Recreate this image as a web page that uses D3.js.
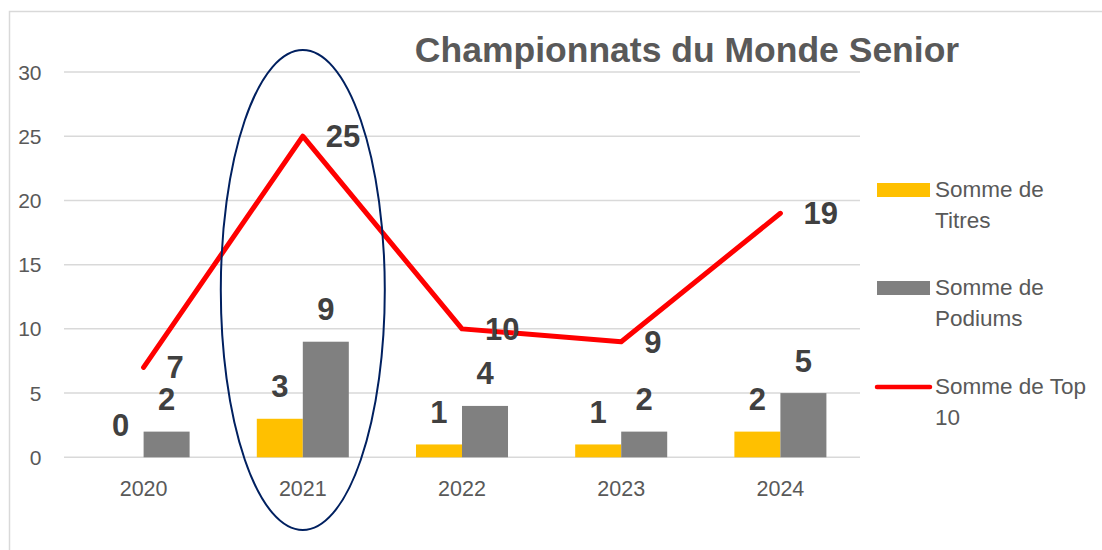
<!DOCTYPE html>
<html>
<head>
<meta charset="utf-8">
<script src="https://cdn.jsdelivr.net/npm/d3@7"></script>
<style>
  html, body { margin: 0; padding: 0; background: #fff; }
  svg { display: block; font-family: "Liberation Sans", Arial, sans-serif; }
</style>
</head>
<body>
<svg id="chart" width="1102" height="550"></svg>
<script>
// ---- data ----
const years = ["2020", "2021", "2022", "2023", "2024"];
const titres = [0, 3, 1, 1, 2];
const podiums = [2, 9, 4, 2, 5];
const top10 = [7, 25, 10, 9, 19];
const yTicks = [0, 5, 10, 15, 20, 25, 30];
const seriesNames = ["Titres", "Podiums", "Top 10"];
const legendLabels = [["Somme de", "Titres"], ["Somme de", "Podiums"], ["Somme de Top", "10"]];
const highlightYear = "2021";
const title = "Championnats du Monde Senior";

// ---- layout ----
const svg = d3.select("#chart");
const plot = { left: 64, right: 860, top: 72, bottom: 457.3 };
const colors = { Titres: "#FFC000", Podiums: "#808080", "Top 10": "#FF0000" };

// outer chart border (partially cropped)
svg.append("rect")
  .attr("x", 9.5).attr("y", 11.5)
  .attr("width", 1300).attr("height", 700)
  .attr("fill", "none").attr("stroke", "#d9d9d9").attr("stroke-width", 1.5);

const x = d3.scaleBand().domain(years).range([plot.left, plot.right]).padding(0);
const xSub = d3.scaleBand().domain(["Titres", "Podiums"]).range([0, x.bandwidth()])
  .paddingInner(0).paddingOuter(0.73);
const y = d3.scaleLinear().domain([0, 30]).range([plot.bottom, plot.top]);

// gridlines
svg.append("g").selectAll("line").data(yTicks).join("line")
  .attr("x1", plot.left).attr("x2", plot.right)
  .attr("y1", d => y(d)).attr("y2", d => y(d))
  .attr("stroke", "#d9d9d9").attr("stroke-width", 1.5);

// y axis labels
svg.append("g").selectAll("text").data(yTicks).join("text")
  .attr("x", 41.5).attr("y", d => y(d) + 7.5)
  .attr("text-anchor", "end")
  .attr("font-size", 21).attr("fill", "#595959")
  .text(d => d);

// x axis labels
svg.append("g").selectAll("text").data(years).join("text")
  .attr("x", d => x(d) + x.bandwidth() / 2).attr("y", 495.5)
  .attr("text-anchor", "middle")
  .attr("font-size", 21.5).attr("fill", "#595959")
  .text(d => d);

// bars
const barData = [];
years.forEach((yr, i) => {
  barData.push({ year: yr, key: "Titres", v: titres[i] });
  barData.push({ year: yr, key: "Podiums", v: podiums[i] });
});
svg.append("g").selectAll("rect").data(barData).join("rect")
  .attr("x", d => x(d.year) + xSub(d.key))
  .attr("width", xSub.bandwidth())
  .attr("y", d => y(d.v))
  .attr("height", d => y(0) - y(d.v))
  .attr("fill", d => colors[d.key]);

// bar labels
svg.append("g").selectAll("text").data(barData).join("text")
  .attr("x", d => x(d.year) + xSub(d.key) + xSub.bandwidth() / 2)
  .attr("y", d => y(d.v) - 21.5)
  .attr("text-anchor", "middle")
  .attr("font-size", 31).attr("font-weight", "bold").attr("fill", "#404040")
  .text(d => d.v);

// line
const lineData = years.map((yr, i) => ({ year: yr, v: top10[i] }));
const line = d3.line().x(d => x(d.year) + x.bandwidth() / 2).y(d => y(d.v));
svg.append("path").datum(lineData)
  .attr("d", line)
  .attr("fill", "none").attr("stroke", colors["Top 10"])
  .attr("stroke-width", 5).attr("stroke-linecap", "round").attr("stroke-linejoin", "round");

// line labels
svg.append("g").selectAll("text").data(lineData).join("text")
  .attr("x", d => x(d.year) + x.bandwidth() / 2 + 23)
  .attr("y", d => y(d.v) + 11)
  .attr("text-anchor", "start")
  .attr("font-size", 31).attr("font-weight", "bold").attr("fill", "#404040")
  .text(d => d.v);

// highlight ellipse
svg.append("ellipse")
  .attr("cx", x(highlightYear) + x.bandwidth() / 2)
  .attr("cy", 290).attr("rx", 82).attr("ry", 240)
  .attr("fill", "none").attr("stroke", "#002060").attr("stroke-width", 2);

// title
svg.append("text")
  .attr("x", 687).attr("y", 61.5)
  .attr("text-anchor", "middle")
  .attr("font-size", 35.5).attr("font-weight", "bold").attr("fill", "#595959")
  .text(title);

// legend
const legendY = [190, 288, 387];
const lg = svg.append("g");
seriesNames.forEach((s, i) => {
  const cy = legendY[i];
  if (s === "Top 10") {
    lg.append("line").attr("x1", 877).attr("x2", 930).attr("y1", cy).attr("y2", cy)
      .attr("stroke", colors[s]).attr("stroke-width", 4.5).attr("stroke-linecap", "round");
  } else {
    lg.append("rect").attr("x", 877).attr("y", cy - 7).attr("width", 53).attr("height", 14)
      .attr("fill", colors[s]);
  }
  const t = lg.append("text").attr("font-size", 22.5).attr("fill", "#595959");
  legendLabels[i].forEach((ln, j) => {
    t.append("tspan").attr("x", 935).attr("y", cy + 6.5 + j * 31).text(ln);
  });
});
</script>
</body>
</html>
